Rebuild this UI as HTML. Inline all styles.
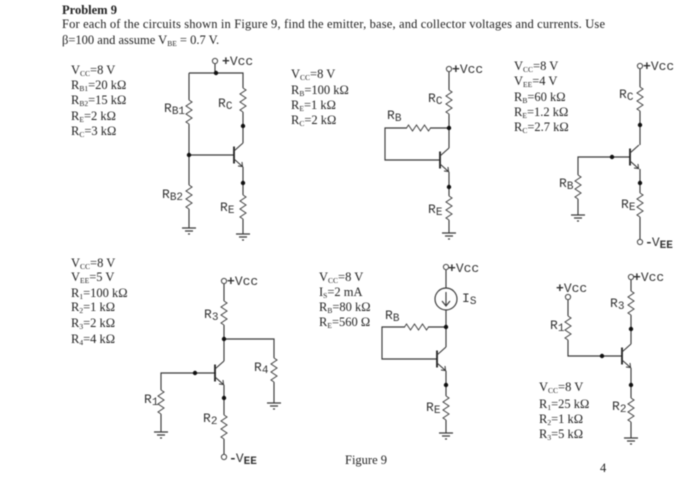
<!DOCTYPE html>
<html><head><meta charset="utf-8"><style>
html,body{margin:0;padding:0;background:#fff}
svg{display:block;filter:blur(.5px)}
.w{fill:none;stroke:#3a3a3a;stroke-width:1.15}
.z{fill:none;stroke:#444;stroke-width:1}
.t{font-family:"Liberation Serif",serif;font-size:12.500px;fill:#222}
.l{font-family:"Liberation Mono",monospace;font-size:13px;fill:#333}
.s{font-size:7.500px}
.m{font-size:11px}
.b{font-weight:bold}
</style></head><body>
<svg width="700" height="503" viewBox="0 0 700 503" xmlns="http://www.w3.org/2000/svg">
<defs>
<path id="r" class="z" d="M0 0l3 2-6 4 6 4-6 4 6 4-6 4 3 2"/>
<path id="g" class="w" d="M-7 0h14M-4 3h8M-1 6h2"/>
<circle id="d" r="2.200" fill="#111"/>
<circle id="o" r="2.600" fill="#fff" stroke="#444" stroke-width="1"/>
<g id="q"><path d="M0 -8.500v17" fill="none" stroke="#222" stroke-width="1.800"/><path class="w" d="M0 -4l9-8M0 4l9 8"/><path d="M8.500 11.500l-4.500-.5M8.500 11.500l-.5-4.500" fill="none" stroke="#333" stroke-width="1"/></g>
</defs>

<text class="t b" x="62" y="14">Problem 9</text>
<text class="t" x="62" y="28" textLength="543" lengthAdjust="spacing">For each of the circuits shown in Figure 9, find the emitter, base, and collector voltages and currents. Use</text>
<text class="t" x="62" y="44">β=100 and assume V<tspan class="s" dy="2">BE</tspan><tspan dy="-2"> = 0.7 V.</tspan></text>

<!-- Circuit 1 -->
<text class="t" x="71" y="74">V<tspan class="s" dy="2">CC</tspan><tspan dy="-2">=8 V</tspan></text>
<text class="t" x="71" y="89">R<tspan class="s" dy="2">B1</tspan><tspan dy="-2">=20 kΩ</tspan></text>
<text class="t" x="71" y="104">R<tspan class="s" dy="2">B2</tspan><tspan dy="-2">=15 kΩ</tspan></text>
<text class="t" x="71" y="120">R<tspan class="s" dy="2">E</tspan><tspan dy="-2">=2 kΩ</tspan></text>
<text class="t" x="71" y="135">R<tspan class="s" dy="2">C</tspan><tspan dy="-2">=3 kΩ</tspan></text>
<path class="w" d="M215 63V73M189 73H243V88M243 112V143M189 73V100M189 124V185M189 209V228M189 155H234M243 167V195M243 219V234"/>
<use href="#r" x="189" y="100"/><use href="#r" x="243" y="88"/><use href="#r" x="189" y="185"/><use href="#r" x="243" y="195"/>
<use href="#q" x="234" y="155"/><use href="#g" x="189" y="228"/><use href="#g" x="243" y="234"/>
<use href="#o" x="215" y="61"/><use href="#d" x="216" y="73"/><use href="#d" x="243" y="126"/><use href="#d" x="189" y="155"/><use href="#d" x="243" y="183"/>
<text class="l" x="222" y="65"><tspan class="b">+</tspan>Vcc</text>
<text class="l" x="164" y="112">R<tspan class="m" dy="2">B1</tspan></text>
<text class="l" x="218" y="107">R<tspan class="m" dy="2">C</tspan></text>
<text class="l" x="162" y="198">R<tspan class="m" dy="2">B2</tspan></text>
<text class="l" x="220" y="211">R<tspan class="m" dy="2">E</tspan></text>

<!-- Circuit 2 -->
<text class="t" x="291" y="78">V<tspan class="s" dy="2">CC</tspan><tspan dy="-2">=8 V</tspan></text>
<text class="t" x="291" y="94">R<tspan class="s" dy="2">B</tspan><tspan dy="-2">=100 kΩ</tspan></text>
<text class="t" x="291" y="109">R<tspan class="s" dy="2">E</tspan><tspan dy="-2">=1 kΩ</tspan></text>
<text class="t" x="291" y="124">R<tspan class="s" dy="2">C</tspan><tspan dy="-2">=2 kΩ</tspan></text>
<path class="w" d="M449 71V90M449 114V148M449 172V196M449 220V233M407 128H385V160H440M430 128H449"/>
<use href="#r" x="449" y="90"/><use href="#r" x="449" y="196"/>
<use href="#r" transform="translate(406.500 128) rotate(-90)"/>
<use href="#q" x="440" y="160"/><use href="#g" x="449" y="233"/>
<use href="#o" x="449" y="69"/><use href="#d" x="449" y="128"/><use href="#d" x="449" y="187"/>
<text class="l" x="452" y="73"><tspan class="b">+</tspan>Vcc</text>
<text class="l" x="428" y="102">R<tspan class="m" dy="2">C</tspan></text>
<text class="l" x="387" y="119">R<tspan class="m" dy="2">B</tspan></text>
<text class="l" x="428" y="213">R<tspan class="m" dy="2">E</tspan></text>

<!-- Circuit 3 -->
<text class="t" x="514" y="70">V<tspan class="s" dy="2">CC</tspan><tspan dy="-2">=8 V</tspan></text>
<text class="t" x="514" y="85">V<tspan class="s" dy="2">EE</tspan><tspan dy="-2">=4 V</tspan></text>
<text class="t" x="514" y="101">R<tspan class="s" dy="2">B</tspan><tspan dy="-2">=60 kΩ</tspan></text>
<text class="t" x="514" y="116">R<tspan class="s" dy="2">E</tspan><tspan dy="-2">=1.2 kΩ</tspan></text>
<text class="t" x="514" y="131">R<tspan class="s" dy="2">C</tspan><tspan dy="-2">=2.7 kΩ</tspan></text>
<path class="w" d="M640 68V87M640 111V145M640 169V193M640 217V240M578 175V157H630M578 199V215"/>
<use href="#r" x="640" y="87"/><use href="#r" x="578" y="175"/><use href="#r" x="640" y="193"/>
<use href="#q" x="630" y="157"/><use href="#g" x="578" y="215"/>
<use href="#o" x="640" y="66"/><use href="#o" x="640" y="242"/>
<use href="#d" x="640" y="125"/><use href="#d" x="612" y="157"/><use href="#d" x="640" y="183"/>
<text class="l" x="643" y="70"><tspan class="b">+</tspan>Vcc</text>
<text class="l" x="619" y="98">R<tspan class="m" dy="2">C</tspan></text>
<text class="l" x="559" y="187">R<tspan class="m" dy="2">B</tspan></text>
<text class="l" x="621" y="208">R<tspan class="m" dy="2">E</tspan></text>
<text class="l" x="645" y="246"><tspan class="b">-</tspan><tspan dx="-1">V</tspan><tspan class="m b" dy="2">EE</tspan></text>

<!-- Circuit 4 -->
<text class="t" x="71" y="267">V<tspan class="s" dy="2">CC</tspan><tspan dy="-2">=8 V</tspan></text>
<text class="t" x="71" y="281">V<tspan class="s" dy="2">EE</tspan><tspan dy="-2">=5 V</tspan></text>
<text class="t" x="71" y="297">R<tspan class="s" dy="2">1</tspan><tspan dy="-2">=100 kΩ</tspan></text>
<text class="t" x="71" y="311">R<tspan class="s" dy="2">2</tspan><tspan dy="-2">=1 kΩ</tspan></text>
<text class="t" x="71" y="327">R<tspan class="s" dy="2">3</tspan><tspan dy="-2">=2 kΩ</tspan></text>
<text class="t" x="71" y="343">R<tspan class="s" dy="2">4</tspan><tspan dy="-2">=4 kΩ</tspan></text>
<path class="w" d="M224 283V301M224 325V361M224 339H274V358M274 382V403M224 385V415M224 439V455M161 390V373H216M161 414V432"/>
<use href="#r" x="224" y="301"/><use href="#r" x="274" y="358"/><use href="#r" x="161" y="390"/><use href="#r" x="224" y="415"/>
<use href="#q" x="215" y="373"/><use href="#g" x="274" y="403"/><use href="#g" x="161" y="432"/>
<use href="#o" x="224" y="281"/><use href="#o" x="224" y="457"/>
<use href="#d" x="224" y="339"/><use href="#d" x="195" y="373"/><use href="#d" x="224" y="398"/>
<text class="l" x="227" y="285"><tspan class="b">+</tspan>Vcc</text>
<text class="l" x="204" y="318">R<tspan class="m" dy="2">3</tspan></text>
<text class="l" x="254" y="371">R<tspan class="m" dy="2">4</tspan></text>
<text class="l" x="144" y="403">R<tspan class="m" dy="2">1</tspan></text>
<text class="l" x="203" y="422">R<tspan class="m" dy="2">2</tspan></text>
<text class="l" x="229" y="462"><tspan class="b">-</tspan><tspan dx="-1">V</tspan><tspan class="m b" dy="2">EE</tspan></text>

<!-- Circuit 5 -->
<text class="t" x="319" y="281">V<tspan class="s" dy="2">CC</tspan><tspan dy="-2">=8 V</tspan></text>
<text class="t" x="319" y="296">I<tspan class="s" dy="2">S</tspan><tspan dy="-2">=2 mA</tspan></text>
<text class="t" x="319" y="311">R<tspan class="s" dy="2">B</tspan><tspan dy="-2">=80 kΩ</tspan></text>
<text class="t" x="319" y="326">R<tspan class="s" dy="2">E</tspan><tspan dy="-2">=560 Ω</tspan></text>
<path class="w" d="M446 269V288M446 310V347M446 371V396M446 420V433M405 327H382V359H437M428 327H446"/>
<circle cx="446" cy="299" r="11" fill="none" stroke="#3a3a3a" stroke-width="1.150"/>
<path class="w" d="M446 292V306M442 301L446 306L450 301"/>
<use href="#r" transform="translate(404.500 327) rotate(-90)"/><use href="#r" x="446" y="396"/>
<use href="#q" x="437" y="359"/><use href="#g" x="446" y="433"/>
<use href="#o" x="446" y="267"/><use href="#d" x="446" y="327"/><use href="#d" x="446" y="385"/>
<text class="l" x="448" y="272"><tspan class="b">+</tspan>Vcc</text>
<text class="l" x="462" y="302">I<tspan class="m" dy="2">S</tspan></text>
<text class="l" x="385" y="319">R<tspan class="m" dy="2">B</tspan></text>
<text class="l" x="426" y="411">R<tspan class="m" dy="2">E</tspan></text>
<text class="t" x="345" y="464">Figure 9</text>

<!-- Circuit 6 -->
<text class="t" x="539" y="391">V<tspan class="s" dy="2">CC</tspan><tspan dy="-2">=8 V</tspan></text>
<text class="t" x="539" y="408">R<tspan class="s" dy="2">1</tspan><tspan dy="-2">=25 kΩ</tspan></text>
<text class="t" x="539" y="423">R<tspan class="s" dy="2">2</tspan><tspan dy="-2">=1 kΩ</tspan></text>
<text class="t" x="539" y="438">R<tspan class="s" dy="2">3</tspan><tspan dy="-2">=5 kΩ</tspan></text>
<path class="w" d="M631 279V291M631 315V344M631 368V398M631 422V438M568 299V316M568 340V356H622"/>
<use href="#r" x="631" y="291"/><use href="#r" x="568" y="316"/><use href="#r" x="631" y="398"/>
<use href="#q" x="622" y="356"/><use href="#g" x="631" y="438"/>
<use href="#o" x="631" y="277"/><use href="#o" x="568" y="297"/>
<use href="#d" x="631" y="329"/><use href="#d" x="602" y="356"/><use href="#d" x="631" y="385"/>
<text class="l" x="633" y="281"><tspan class="b">+</tspan>Vcc</text>
<text class="l" x="556" y="292"><tspan class="b">+</tspan>Vcc</text>
<text class="l" x="550" y="329">R<tspan class="m" dy="2">1</tspan></text>
<text class="l" x="610" y="307">R<tspan class="m" dy="2">3</tspan></text>
<text class="l" x="612" y="410">R<tspan class="m" dy="2">2</tspan></text>
<text class="t" x="600" y="472">4</text>
</svg>
</body></html>
